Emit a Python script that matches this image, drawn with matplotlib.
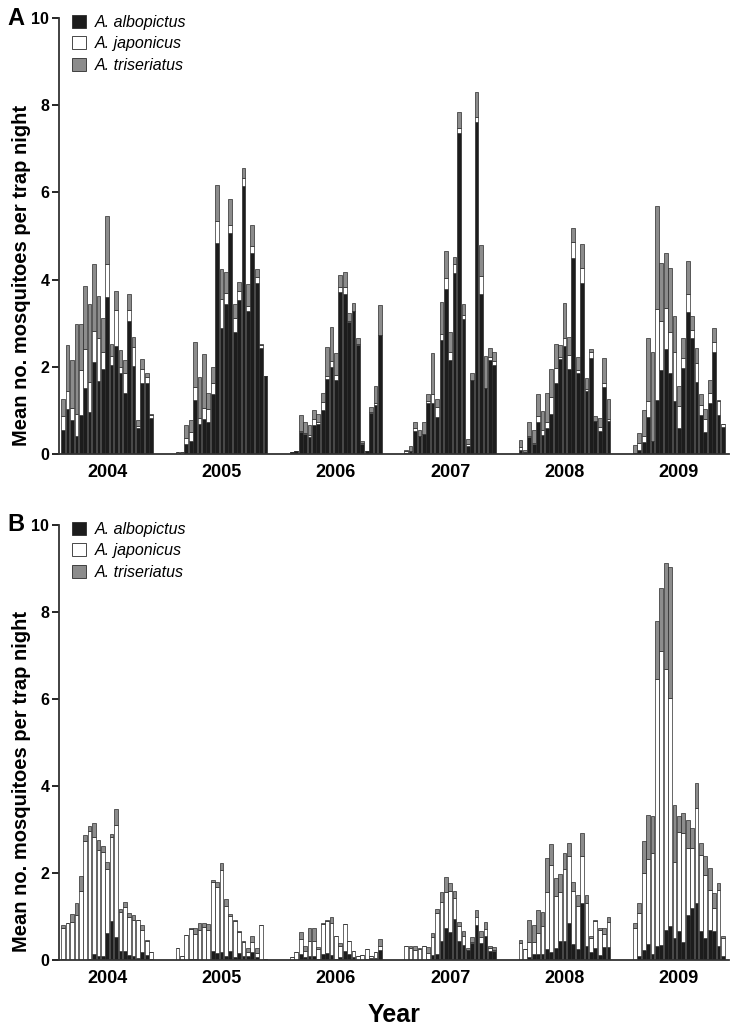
import numpy as np
import matplotlib
matplotlib.use("Agg")
import matplotlib.pyplot as plt
from matplotlib.patches import Patch

plt.rcParams['font.family'] = ['Liberation Sans', 'DejaVu Sans']

years = ['2004', '2005', '2006', '2007', '2008', '2009']
species = ['A. albopictus', 'A. japonicus', 'A. triseriatus']

# panel A, weekly means per year (21 weeks each)
a_albopictus = [
    [0.54, 1.04, 0.78, 0.42, 0.90, 1.52, 0.96, 2.12, 1.68, 1.96, 3.60, 2.04, 2.48, 1.86, 1.41, 3.06, 2.02, 0.59, 1.63, 1.64, 0.83],
    [0, 0, 0.23, 0.29, 1.24, 0.69, 0.80, 0.73, 1.37, 4.83, 2.90, 3.45, 5.07, 2.79, 3.53, 6.15, 3.27, 4.62, 3.93, 2.44, 1.78],
    [0.05, 0.08, 0.50, 0.47, 0.38, 0.67, 0.69, 1.00, 1.72, 2.00, 1.69, 3.72, 3.68, 3.02, 3.27, 2.50, 0.24, 0.08, 0.95, 1.13, 2.72],
    [0.03, 0.08, 0.53, 0.42, 0.47, 1.18, 1.18, 0.85, 2.61, 3.78, 2.15, 4.16, 7.37, 3.09, 0.19, 1.69, 7.62, 3.68, 1.51, 2.15, 2.04],
    [0.09, 0.05, 0.38, 0.24, 0.73, 0.44, 0.59, 0.92, 1.62, 2.18, 2.47, 1.95, 4.49, 1.85, 3.93, 1.44, 2.20, 0.76, 0.53, 1.53, 0.75],
    [0.03, 0.09, 0.28, 0.84, 0.29, 1.24, 1.92, 2.42, 1.85, 1.22, 0.60, 1.98, 3.26, 2.66, 1.66, 0.90, 0.51, 1.18, 2.34, 0.90, 0.61],
]
a_japonicus = [
    [0.33, 0.41, 0.27, 0.50, 1.02, 0.90, 0.69, 0.70, 0.99, 0.37, 0.75, 0.21, 0.83, 0.14, 0.45, 0.25, 0.44, 0.05, 0.31, 0.13, 0.07],
    [0.05, 0.05, 0.14, 0.21, 0.29, 0.13, 0.25, 0.30, 0.26, 0.51, 0.66, 0.25, 0.18, 0.32, 0.21, 0.19, 0.13, 0.15, 0.12, 0.06, 0],
    [0, 0, 0.03, 0.01, 0.06, 0.13, 0.05, 0.20, 0.08, 0.14, 0.13, 0.11, 0.15, 0.02, 0.02, 0.02, 0.01, 0, 0.02, 0.03, 0],
    [0.03, 0, 0.07, 0, 0, 0.03, 0.19, 0.22, 0.14, 0.25, 0.20, 0.19, 0.11, 0.11, 0.05, 0, 0.11, 0.40, 0.01, 0.08, 0.10],
    [0.06, 0, 0.04, 0.02, 0.15, 0.11, 0.14, 0.38, 0.36, 0.05, 0.20, 0.32, 0.38, 0.07, 0.34, 0.05, 0.13, 0, 0.08, 0.09, 0.05],
    [0, 0.16, 0.14, 0.38, 0.01, 2.08, 1.13, 0.94, 0.94, 1.11, 0.50, 0.23, 0.42, 0.19, 0.42, 0.23, 0.29, 0.23, 0.22, 0.31, 0.08],
]
a_triseriatus = [
    [0.40, 1.05, 1.10, 2.06, 1.06, 1.44, 1.80, 1.53, 0.96, 0.79, 1.11, 0.27, 0.44, 0.38, 0.29, 0.37, 0.22, 0.14, 0.23, 0.09, 0.02],
    [0, 0, 0.29, 0.28, 1.04, 0.95, 1.25, 0.38, 0.37, 0.82, 0.68, 0.48, 0.61, 0.33, 0.21, 0.22, 0.50, 0.48, 0.19, 0.03, 0],
    [0, 0, 0.36, 0.25, 0.23, 0.22, 0.18, 0.20, 0.66, 0.78, 0.49, 0.27, 0.34, 0.20, 0.18, 0.14, 0.05, 0, 0.11, 0.40, 0.70],
    [0.04, 0.11, 0.14, 0.13, 0.27, 0.16, 0.94, 0.20, 0.74, 0.63, 0.44, 0.18, 0.37, 0.24, 0.10, 0.16, 0.57, 0.71, 0.73, 0.21, 0.19],
    [0.17, 0.04, 0.31, 0.29, 0.49, 0.44, 0.67, 0.66, 0.55, 0.27, 0.79, 0.42, 0.32, 0.31, 0.54, 0.25, 0.09, 0.12, 0.21, 0.59, 0.46],
    [0.17, 0.23, 0.60, 1.45, 2.03, 2.36, 1.34, 1.24, 1.48, 0.84, 0.46, 0.45, 0.75, 0.32, 0.36, 0.24, 0.23, 0.28, 0.33, 0.04, 0.01],
]

# panel B
b_albopictus = [
    [0.02, 0, 0, 0, 0, 0, 0.02, 0.13, 0.08, 0.09, 0.63, 0.89, 0.52, 0.21, 0.21, 0.11, 0.08, 0.04, 0.19, 0.11, 0.02],
    [0, 0, 0.01, 0.02, 0.02, 0.01, 0.01, 0, 0.21, 0.15, 0.18, 0.08, 0.21, 0.06, 0.15, 0.08, 0.09, 0.19, 0.06, 0, 0.03],
    [0, 0.01, 0.14, 0.06, 0.08, 0.08, 0.03, 0.14, 0.15, 0.11, 0.02, 0.06, 0.21, 0.14, 0.06, 0, 0, 0.02, 0.04, 0.05, 0.23],
    [0, 0, 0, 0, 0, 0.02, 0.11, 0.13, 0.44, 0.73, 0.65, 0.94, 0.44, 0.34, 0.23, 0.38, 0.80, 0.38, 0.54, 0.21, 0.21],
    [0, 0, 0.06, 0.14, 0.14, 0.14, 0.25, 0.18, 0.27, 0.44, 0.44, 0.86, 0.37, 0.25, 1.30, 0.33, 0.18, 0.27, 0.11, 0.29, 0.29],
    [0.01, 0.09, 0.23, 0.36, 0.13, 0.32, 0.34, 0.70, 0.78, 0.51, 0.67, 0.42, 1.03, 1.20, 1.30, 0.67, 0.50, 0.70, 0.67, 0.33, 0.09],
]
b_japonicus = [
    [0.71, 0.84, 0.88, 1.03, 1.59, 2.73, 2.94, 2.69, 2.45, 2.39, 1.47, 1.93, 2.59, 0.90, 1.00, 0.88, 0.85, 0.88, 0.51, 0.33, 0.17],
    [0.27, 0.08, 0.56, 0.69, 0.58, 0.68, 0.74, 0.70, 1.58, 1.52, 1.89, 1.17, 0.80, 0.84, 0.50, 0.34, 0.10, 0.22, 0.11, 0.80, 0],
    [0.06, 0.18, 0.34, 0.15, 0.36, 0.36, 0.22, 0.68, 0.75, 0.75, 0.54, 0.27, 0.61, 0.30, 0.15, 0.08, 0.11, 0.23, 0.04, 0.14, 0.09],
    [0.32, 0.28, 0.23, 0.25, 0.32, 0.13, 0.41, 0.94, 0.90, 0.84, 0.94, 0.49, 0.33, 0.20, 0.01, 0.04, 0.18, 0.14, 0.17, 0.06, 0.02],
    [0.38, 0.25, 0.36, 0.28, 0.47, 0.63, 1.32, 2.00, 1.20, 1.13, 1.64, 1.54, 1.22, 0.98, 1.08, 0.99, 0.33, 0.63, 0.59, 0.30, 0.59],
    [0.72, 1.00, 1.77, 1.96, 2.32, 6.13, 6.76, 5.99, 5.24, 1.75, 2.28, 2.49, 1.55, 1.38, 2.19, 1.74, 1.45, 0.91, 0.52, 1.28, 0.41],
]
b_triseriatus = [
    [0.07, 0.02, 0.17, 0.29, 0.34, 0.15, 0.13, 0.33, 0.22, 0.13, 0.15, 0.08, 0.36, 0.07, 0.13, 0.09, 0.10, 0.01, 0.10, 0.02, 0],
    [0, 0, 0, 0.02, 0.13, 0.17, 0.11, 0.13, 0.05, 0.12, 0.17, 0.15, 0.05, 0.02, 0.02, 0.02, 0.08, 0.14, 0.10, 0, 0],
    [0, 0, 0.16, 0.10, 0.29, 0.29, 0.04, 0.02, 0.02, 0.12, 0, 0.05, 0, 0, 0, 0, 0, 0, 0, 0, 0.16],
    [0, 0.03, 0.09, 0.03, 0, 0.14, 0.11, 0.10, 0.22, 0.33, 0.17, 0.16, 0.11, 0.13, 0.03, 0.10, 0.17, 0.15, 0.16, 0.05, 0.06],
    [0.08, 0, 0.50, 0.38, 0.54, 0.34, 0.77, 0.49, 0.42, 0.41, 0.39, 0.28, 0.21, 0.26, 0.53, 0.17, 0.05, 0.02, 0.03, 0.15, 0.10],
    [0.11, 0.21, 0.74, 1.01, 0.85, 1.34, 1.44, 2.43, 3.02, 1.30, 0.35, 0.46, 0.64, 0.45, 0.57, 0.27, 0.43, 0.50, 0.36, 0.15, 0.06],
]

colors = ['#1c1c1c', 'white', '#8c8c8c']
slots = 26  # weeks per season block incl. gap


def draw_panel(ax, alb, jap, tri, letter):
    for k in range(len(years)):
        x = k * slots + np.arange(len(alb[k]))
        bottom = np.zeros(len(x))
        for vals, c in zip([alb[k], jap[k], tri[k]], colors):
            vals = np.array(vals)
            ax.bar(x, vals, bottom=bottom, width=0.85, color=c,
                   edgecolor='#2a2a2a', linewidth=0.5)
            bottom += vals
    ax.set_xlim(-0.95, 151.4)
    ax.set_ylim(0, 10)
    ax.set_yticks([0, 2, 4, 6, 8, 10])
    ax.set_xticks([k * slots + 10 for k in range(len(years))])
    ax.set_xticklabels(years)
    ax.tick_params(axis='x', length=0, pad=7, labelsize=13)
    ax.tick_params(axis='y', direction='out', length=5, width=1.2, labelsize=11.5, pad=2)
    for lab in ax.get_xticklabels() + ax.get_yticklabels():
        lab.set_fontweight('bold')
    for s in ['top', 'right']:
        ax.spines[s].set_visible(False)
    for s in ['left', 'bottom']:
        ax.spines[s].set_linewidth(1.3)
        ax.spines[s].set_color('#333333')
    ax.set_ylabel('Mean no. mosquitoes per trap night', fontsize=14.5,
                  fontweight='bold')
    ax.yaxis.set_label_coords(-0.042, 0.41)
    handles = [Patch(facecolor=c, edgecolor='#2a2a2a', linewidth=0.6) for c in colors]
    ax.legend(handles, species, loc='upper left', bbox_to_anchor=(0.005, 1.03),
              frameon=False, prop={'style': 'italic', 'size': 11.5},
              handlelength=0.9, handleheight=0.9, handletextpad=0.5,
              labelspacing=0.4, borderaxespad=0.2)
    ax.text(-0.065, 1.0, letter, transform=ax.transAxes, fontsize=17,
            fontweight='bold', ha='center', va='center')


fig = plt.figure(figsize=(7.36, 10.30), dpi=100)
ax1 = fig.add_axes([0.0802, 0.5592, 0.9103, 0.4233])
ax2 = fig.add_axes([0.0802, 0.068, 0.9103, 0.4223])
draw_panel(ax1, a_albopictus, a_japonicus, a_triseriatus, 'A')
draw_panel(ax2, b_albopictus, b_japonicus, b_triseriatus, 'B')
ax2.set_xlabel('Year', fontsize=18, fontweight='bold', labelpad=12)

fig.savefig('out.png', dpi=100)
